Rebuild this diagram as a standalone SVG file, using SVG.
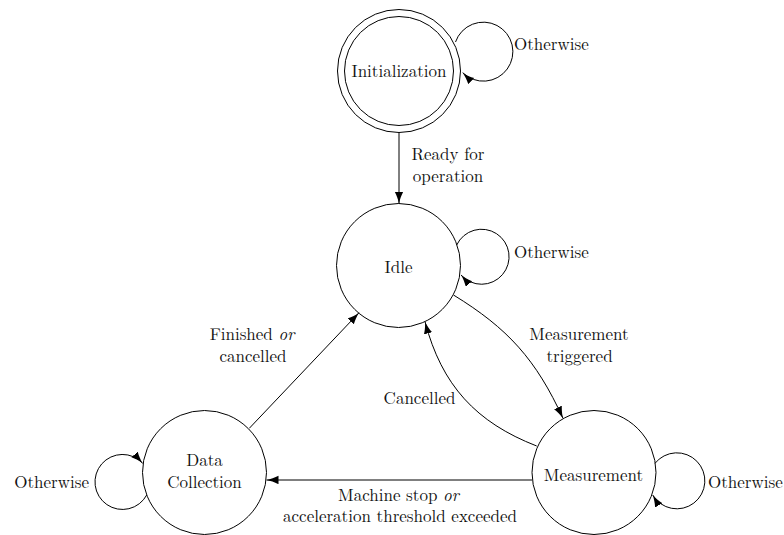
<svg xmlns="http://www.w3.org/2000/svg" width="784" height="535" viewBox="0 0 784 535">
  <style>
    .state { fill: none; stroke: #000; stroke-width: 1; }
    .edge { fill: none; stroke: #000; stroke-width: 1; marker-end: url(#arrow); }
    .c { text-anchor: middle; }
    .s { text-anchor: start; }
    .e { text-anchor: end; }
    .it { font-style: italic; }
  </style>
  <defs>
    <!-- LaTeX-style filled arrowhead, tip at the path end -->
    <marker id="arrow" markerUnits="userSpaceOnUse" markerWidth="13" markerHeight="10" refX="12" refY="4.25" orient="auto">
      <path d="M12,4.25 C8,5 3.5,6.6 0,8.5 L0,0 C3.5,1.9 8,3.5 12,4.25 Z" fill="#000"/>
    </marker>
  </defs>
  <rect width="784" height="535" fill="#fff"/>

  <g font-family="'Latin Modern Roman', 'Liberation Serif', serif" font-size="17" fill="#111">
    <!-- states -->
    <g id="initialization">
      <circle class="state" cx="399" cy="71" r="61.5"/>
      <circle class="state" cx="399" cy="71" r="54.5"/>
      <text class="c" x="399" y="76.5">Initialization</text>
    </g>
    <g id="idle">
      <circle class="state" cx="398.5" cy="265.5" r="62"/>
      <text class="c" x="398.5" y="273">Idle</text>
    </g>
    <g id="data-collection">
      <circle class="state" cx="204.5" cy="472.5" r="62"/>
      <text class="c" x="204.5" y="466.2">Data</text>
      <text class="c" x="204.5" y="488.2">Collection</text>
    </g>
    <g id="measurement">
      <circle class="state" cx="594" cy="472.5" r="62"/>
      <text class="c" x="593.5" y="480.7">Measurement</text>
    </g>

    <!-- transitions -->
    <g id="connectors">
      <path class="edge" d="M399,132.5 L399,203.8"/>
      <path class="edge" d="M453.5,295 C508,328.4 536,359.5 563,418.3"/>
      <path class="edge" d="M536.7,446 C475.9,422.4 441.8,385.3 425,321.7"/>
      <path class="edge" d="M249.3,428.3 L359,312.7"/>
      <path class="edge" d="M532,480 L266.5,480"/>
      <!-- self loops -->
      <path class="edge" d="M455.5,42 A29.5,29.5 0 1 1 462.7,72.7"/>
      <path class="edge" d="M456.7,245 A27.5,27.5 0 1 1 461,275"/>
      <path class="edge" d="M146.7,495 A27.5,27.5 0 1 1 142.7,463.3"/>
      <path class="edge" d="M655,463.3 A28,28 0 1 1 652.7,495"/>
    </g>

    <!-- transition labels -->
    <g id="labels">
      <text class="c" x="448" y="159.5">Ready for</text>
      <text class="c" x="448" y="182">operation</text>
      <text class="s" x="514" y="50">Otherwise</text>
      <text class="s" x="514" y="258">Otherwise</text>
      <text class="e" x="89" y="488">Otherwise</text>
      <text class="s" x="708" y="487.5">Otherwise</text>
      <text class="c" x="252" y="340.2">Finished <tspan class="it">or</tspan></text>
      <text class="c" x="253" y="362.2">cancelled</text>
      <text class="c" x="579" y="339.5">Measurement</text>
      <text class="c" x="579.5" y="362">triggered</text>
      <text class="c" x="419.5" y="404">Cancelled</text>
      <text class="c" x="398.5" y="500.5">Machine stop <tspan class="it">or</tspan></text>
      <text class="c" x="400" y="522.2">acceleration threshold exceeded</text>
    </g>
  </g>
</svg>
